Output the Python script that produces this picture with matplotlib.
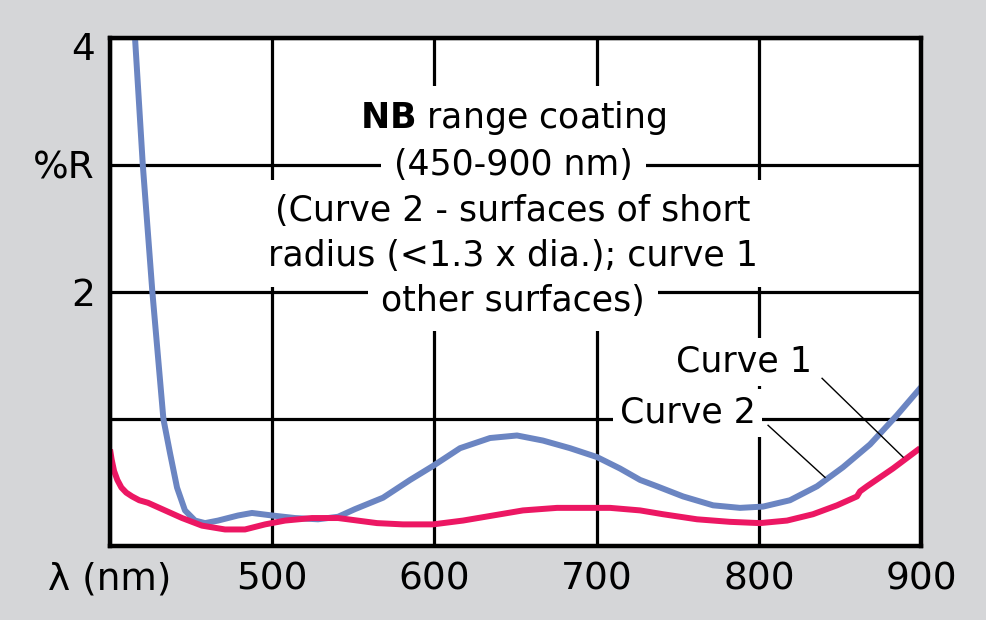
import matplotlib
matplotlib.use("Agg")
import matplotlib.pyplot as plt
from matplotlib.transforms import ScaledTranslation

# wavelength (nm) / reflectance (%R)
curve2_nm = [415.4, 420.2, 426.1, 432.9, 437.0, 441.3, 446.2, 452.4, 458.6, 466.6,
             478.9, 487.5, 499.9, 514.0, 528.2, 540.6, 551.0, 568.3, 585.0, 599.1,
             615.8, 634.3, 650.9, 666.9, 683.6, 700.2, 714.4, 726.8, 737.2, 753.3,
             771.8, 788.4, 802.6, 819.2, 835.9, 851.9, 868.6, 885.2, 900.0]
curve2_r = [4.00, 3.00, 2.00, 1.00, 0.73, 0.46, 0.28, 0.20, 0.18, 0.20,
            0.24, 0.26, 0.24, 0.22, 0.21, 0.23, 0.29, 0.38, 0.52, 0.63,
            0.77, 0.85, 0.87, 0.83, 0.77, 0.70, 0.61, 0.52, 0.47, 0.39,
            0.32, 0.30, 0.31, 0.36, 0.47, 0.62, 0.80, 1.03, 1.25]

curve1_nm = [400.0, 401.0, 402.5, 404.5, 407.0, 410.0, 413.6, 418.0, 423.4, 433.9,
             444.4, 456.7, 470.9, 483.2, 495.6, 507.9, 524.5, 540.6, 564.6, 580.6,
             599.1, 617.6, 636.1, 654.6, 675.6, 691.6, 708.3, 726.8, 740.9, 761.9,
             782.2, 800.7, 817.4, 833.4, 848.2, 860.5, 862.4, 866.7, 882.7, 899.4]
curve1_r = [0.76, 0.68, 0.59, 0.52, 0.46, 0.42, 0.39, 0.36, 0.34, 0.28,
            0.22, 0.16, 0.13, 0.13, 0.17, 0.20, 0.22, 0.22, 0.18, 0.17,
            0.17, 0.20, 0.24, 0.28, 0.30, 0.30, 0.30, 0.28, 0.25, 0.21,
            0.19, 0.18, 0.20, 0.25, 0.32, 0.39, 0.43, 0.47, 0.61, 0.77]

x_ticks = [400, 500, 600, 700, 800, 900]
x_labels = ["λ (nm)", "500", "600", "700", "800", "900"]
y_ticks = [0, 1, 2, 3, 4]
y_labels = ["", "", "2", "%R", "4"]

info_lines = [r"$\bf{NB}$ range coating",
              "(450-900 nm)",
              "(Curve 2 - surfaces of short",
              "radius (<1.3 x dia.); curve 1",
              "other surfaces)"]

bg = "#d5d6d8"
blue = "#6b85c2"
red = "#ec1763"

fig = plt.figure(figsize=(9.86, 6.2), dpi=100, facecolor=bg)
ax = fig.add_axes([0.1116, 0.1194, 0.8225, 0.8194])
ax.set_xlim(400, 900)
ax.set_ylim(0, 4)
ax.set_facecolor("white")

ax.set_xticks(x_ticks)
ax.set_xticklabels(x_labels)
ax.set_yticks(y_ticks)
ax.set_yticklabels(y_labels)
ax.tick_params(length=0, labelsize=27, pad=11)
# the top "4" sits a little below the top border
top_lab = ax.get_yticklabels()[-1]
top_lab.set_transform(top_lab.get_transform() +
                      ScaledTranslation(0, -6 / 72, fig.dpi_scale_trans))
ax.grid(True, color="black", linewidth=2.3)
ax.set_axisbelow(True)
for s in ax.spines.values():
    s.set_linewidth(3.2)
    s.set_zorder(6)

ax.plot(curve2_nm, curve2_r, color=blue, lw=4.3, zorder=3,
        solid_capstyle="butt", solid_joinstyle="round")
ax.plot(curve1_nm, curve1_r, color=red, lw=4.3, zorder=3,
        solid_capstyle="butt", solid_joinstyle="round")

# centred note, one white box per line so the grid is hidden behind it
box = dict(boxstyle="square,pad=0.38", facecolor="white", edgecolor="none")
y_pos = [3.37, 3.0, 2.64, 2.28, 1.93]
for line, yy in zip(info_lines, y_pos):
    ax.text(648.5, yy, line, ha="center", va="center", fontsize=25,
            bbox=box, zorder=4)

# curve labels with thin leader lines
box2 = dict(boxstyle="square,pad=0.2", facecolor="white", edgecolor="none")
ax.text(791, 1.45, "Curve 1", ha="center", va="center", fontsize=25,
        bbox=box2, zorder=4)
ax.text(756, 1.05, "Curve 2", ha="center", va="center", fontsize=25,
        bbox=box2, zorder=4)
ax.plot([839.0, 888.9], [1.32, 0.70], color="black", lw=1.0, zorder=5)
ax.plot([805.7, 840.8], [0.95, 0.54], color="black", lw=1.0, zorder=5)

fig.savefig("out.png", dpi=100, facecolor=bg)
